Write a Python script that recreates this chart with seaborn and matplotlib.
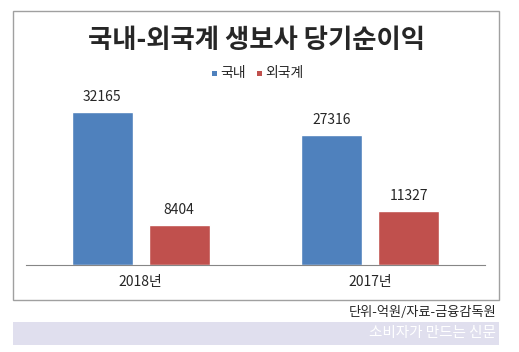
import pandas as pd
import matplotlib.pyplot as plt
import seaborn as sns
from matplotlib.patches import Rectangle

years = ['2018년', '2017년']
series = ['국내', '외국계']
domestic = [32165, 27316]
foreign = [8404, 11327]
colors = ['#4f81bd', '#c0504d']

df = pd.DataFrame({
    'year': years * 2,
    'type': [series[0]] * 2 + [series[1]] * 2,
    'value': domestic + foreign,
})

sns.set_style('white')
plt.rcParams['font.family'] = ['Noto Sans CJK KR', 'DejaVu Sans']

W, H = 519, 352
fig = plt.figure(figsize=(W / 100, H / 100), dpi=100)

# outer frame and bottom band
fig.patches.append(Rectangle((13 / W, 1 - 300 / H), 486 / W, 289 / H, transform=fig.transFigure,
                             fill=False, edgecolor='#a0a0a0', linewidth=1))
fig.patches.append(Rectangle((13 / W, 1 - 345 / H), 486 / W, 23 / H, transform=fig.transFigure,
                             facecolor='#e0dfee', edgecolor='none'))

ax = fig.add_axes([26 / W, 1 - 265 / H, 459 / W, 185 / H])
sns.barplot(data=df, x='year', y='value', hue='type', palette=colors, saturation=1,
            width=0.67, gap=0.21, ax=ax, legend=False)
ax.set_ylim(0, 185 / (153 / 32165))
ax.set_xlim(-0.5, 1.5)

for c in ax.containers:
    ax.bar_label(c, fmt='%d', padding=6, fontsize=10)

for s in ['top', 'right', 'left']:
    ax.spines[s].set_visible(False)
ax.spines['bottom'].set_color('#868686')
ax.set_yticks([])
ax.set_xlabel('')
ax.set_ylabel('')
ax.tick_params(axis='x', length=0, pad=7, labelsize=10)

fig.text(256 / W, 1 - 41 / H, '국내-외국계 생보사 당기순이익', ha='center', va='center',
         fontsize=19, fontweight='black')

# legend
lx = [212, 257]
for i, name in enumerate(series):
    fig.patches.append(Rectangle((lx[i] / W, 1 - 76 / H), 5 / W, 5 / H, transform=fig.transFigure,
                                 facecolor=colors[i], edgecolor='none'))
    fig.text((lx[i] + 8) / W, 1 - 73 / H, name, ha='left', va='center', fontsize=10)

fig.text(497 / W, 1 - 313 / H, '단위-억원/자료-금융감독원', ha='right', va='center', fontsize=9.5)
fig.text(496 / W, 1 - 333 / H, '소비자가 만드는 신문', ha='right', va='center', fontsize=10.5,
         color='white')

fig.savefig('out.png', dpi=100)
